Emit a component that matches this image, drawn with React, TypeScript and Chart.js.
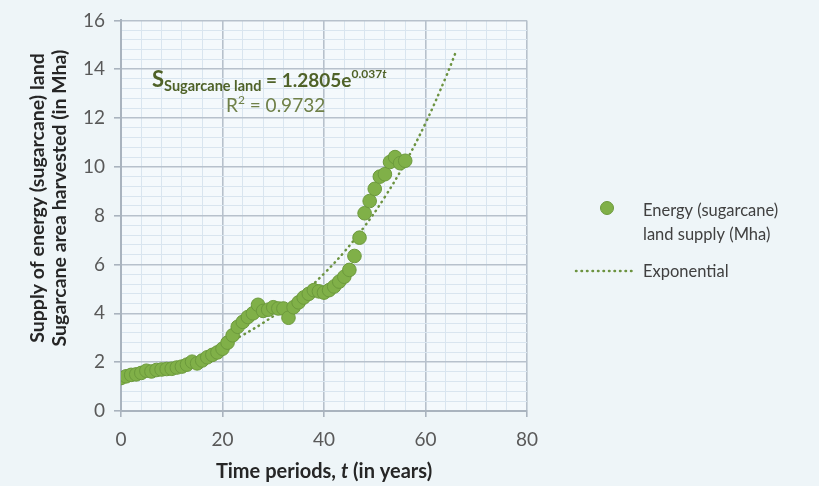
import React, { useEffect, useRef } from 'react';
import { Chart, registerables } from 'chart.js';

Chart.register(...registerables);

// ---- data ----
const years = [
  0, 1, 2, 3, 4, 5, 6, 7, 8, 9, 10, 11, 12, 13, 14, 15, 16, 17, 18, 19,
  20, 21, 22, 23, 24, 25, 26, 27, 28, 29, 30, 31, 32, 33, 34, 35, 36, 37, 38, 39,
  40, 41, 42, 43, 44, 45, 46, 47, 48, 49, 50, 51, 52, 53, 54, 55, 56,
];
const landSupply = [
  1.35, 1.42, 1.48, 1.5, 1.56, 1.65, 1.62, 1.68, 1.7, 1.72, 1.73, 1.78, 1.82, 1.9, 2.02, 1.95, 2.07, 2.2, 2.3, 2.4,
  2.55, 2.8, 3.1, 3.45, 3.65, 3.85, 4.0, 4.35, 4.1, 4.15, 4.25, 4.2, 4.2, 3.82, 4.25, 4.45, 4.65, 4.8, 4.95, 4.9,
  4.85, 4.95, 5.1, 5.3, 5.5, 5.78, 6.35, 7.1, 8.1, 8.6, 9.1, 9.6, 9.7, 10.2, 10.4, 10.15, 10.25,
];
// exponential trendline as stated on the chart: S = 1.2805 e^(0.037 t)
const trendCoefA = 1.2805;
const trendCoefB = 0.037;
const trendYears = [0, 4, 8, 12, 16, 20, 24, 28, 32, 36, 40, 44, 48, 52, 56, 60, 64, 66];
const rSquared = '0.9732';

const seriesLabel = ['Energy (sugarcane)', 'land supply (Mha)'];
const trendLabel = 'Exponential';
const yTitle = ['Supply of energy (sugarcane) land', 'Sugarcane area harvested (in Mha)'];

const FONT = 'Lato, "Open Sans", sans-serif';
const POINT_FILL = '#80b048';
const POINT_EDGE = '#6c9a3c';
const TREND_COLOR = '#6c9340';
const MAJOR_GRID = '#b7c1cc';
const MINOR_GRID = '#d9e5ef';

const isMultiple = (v: number, m: number) => Math.abs(v / m - Math.round(v / m)) < 1e-6;

const overlayPlugin = {
  id: 'overlay',
  beforeDraw(chart: any) {
    const { ctx, chartArea: a } = chart;
    ctx.save();
    ctx.fillStyle = '#eef5f8';
    ctx.fillRect(0, 0, chart.width, chart.height);
    ctx.fillStyle = '#f4f9fc';
    ctx.fillRect(a.left, a.top, a.right - a.left, a.bottom - a.top);
    ctx.restore();
  },
  afterDraw(chart: any) {
    const { ctx, chartArea: a } = chart;
    ctx.save();
    ctx.textBaseline = 'alphabetic';

    // y axis title (two lines, rotated)
    ctx.save();
    ctx.translate(38, 198);
    ctx.rotate(-Math.PI / 2);
    ctx.fillStyle = '#262626';
    ctx.font = `bold 19.5px ${FONT}`;
    ctx.textAlign = 'center';
    ctx.textBaseline = 'middle';
    ctx.fillText(yTitle[0], 0, 0);
    ctx.fillText(yTitle[1], 0, 22);
    ctx.restore();

    // x axis title with italic t
    const xParts = [
      { t: 'Time periods, ', f: `bold 20px ${FONT}` },
      { t: 't', f: `italic bold 20px ${FONT}` },
      { t: ' (in years)', f: `bold 20px ${FONT}` },
    ];
    let total = 0;
    xParts.forEach((p) => { ctx.font = p.f; total += ctx.measureText(p.t).width; });
    let x = (a.left + a.right) / 2 - total / 2;
    ctx.fillStyle = '#262626';
    xParts.forEach((p) => { ctx.font = p.f; ctx.fillText(p.t, x, 478); x += ctx.measureText(p.t).width; });

    // equation
    const eq = [
      { t: 'S', f: `bold 22px ${FONT}`, dy: 0 },
      { t: 'Sugarcane land', f: `bold 14.5px ${FONT}`, dy: 4 },
      { t: ' = 1.2805e', f: `bold 19px ${FONT}`, dy: 0 },
      { t: '0.037', f: `bold 12px ${FONT}`, dy: -9 },
      { t: 't', f: `italic bold 12px ${FONT}`, dy: -9 },
    ];
    x = 152;
    ctx.fillStyle = '#4f6228';
    eq.forEach((p) => { ctx.font = p.f; ctx.fillText(p.t, x, 87 + p.dy); x += ctx.measureText(p.t).width; });

    const r2 = [
      { t: 'R', f: `19px ${FONT}`, dy: 0 },
      { t: '2', f: `12px ${FONT}`, dy: -8 },
      { t: ' = ' + rSquared, f: `19px ${FONT}`, dy: 0 },
    ];
    x = 226;
    ctx.fillStyle = '#6f8048';
    r2.forEach((p) => { ctx.font = p.f; ctx.fillText(p.t, x, 112 + p.dy); x += ctx.measureText(p.t).width; });

    // legend
    ctx.beginPath();
    ctx.arc(607, 208, 6.5, 0, Math.PI * 2);
    ctx.fillStyle = POINT_FILL;
    ctx.fill();
    ctx.lineWidth = 1;
    ctx.strokeStyle = POINT_EDGE;
    ctx.stroke();

    ctx.beginPath();
    ctx.setLineDash([0.5, 5]);
    ctx.lineCap = 'round';
    ctx.lineWidth = 2.5;
    ctx.strokeStyle = TREND_COLOR;
    ctx.moveTo(576, 271);
    ctx.lineTo(633, 271);
    ctx.stroke();
    ctx.setLineDash([]);

    ctx.fillStyle = '#404040';
    ctx.font = `16.5px ${FONT}`;
    ctx.textAlign = 'left';
    ctx.fillText(seriesLabel[0], 643, 216);
    ctx.fillText(seriesLabel[1], 643, 240);
    ctx.fillText(trendLabel, 643, 277);
    ctx.restore();
  },
};

export default function App() {
  const ref = useRef<HTMLCanvasElement | null>(null);

  useEffect(() => {
    document.body.style.margin = '0';
    const canvas = ref.current;
    if (!canvas) return;
    const pts = years.map((t, i) => ({ x: t, y: landSupply[i] }));
    const trend = trendYears.map((t) => ({ x: t, y: trendCoefA * Math.exp(trendCoefB * t) }));

    const chart = new Chart(canvas, {
      type: 'scatter',
      data: {
        datasets: [
          {
            label: seriesLabel.join(' '),
            data: pts,
            backgroundColor: POINT_FILL,
            borderColor: POINT_EDGE,
            borderWidth: 1,
            pointRadius: 6.8,
            order: 1,
          },
          {
            type: 'line',
            label: trendLabel,
            data: trend,
            borderColor: TREND_COLOR,
            borderWidth: 2.5,
            borderDash: [0.5, 5],
            borderCapStyle: 'round',
            pointRadius: 0,
            fill: false,
            tension: 0.4,
            order: 2,
          } as any,
        ],
      },
      options: {
        responsive: false,
        animation: false,
        events: [],
        layout: { padding: { left: 0, top: 17, right: 292, bottom: 0 } },
        plugins: { legend: { display: false }, tooltip: { enabled: false } },
        scales: {
          x: {
            type: 'linear',
            min: 0,
            max: 80,
            afterFit: (s: any) => { s.height = 75; },
            ticks: {
              stepSize: 4,
              autoSkip: false,
              maxRotation: 0,
              padding: 11,
              color: '#595959',
              font: { family: FONT, size: 19 },
              callback: (v: any) => (isMultiple(Number(v), 20) ? String(v) : ''),
            },
            grid: {
              color: (c: any) => (isMultiple(c.tick.value, 20) ? MAJOR_GRID : MINOR_GRID),
              lineWidth: (c: any) => (isMultiple(c.tick.value, 20) ? 1.6 : 1),
              tickColor: (c: any) => (isMultiple(c.tick.value, 20) ? '#a9b3be' : 'rgba(0,0,0,0)'),
              tickLength: 6,
            },
            border: { color: '#a9b3be', width: 2 },
          },
          y: {
            type: 'linear',
            min: 0,
            max: 16,
            afterFit: (s: any) => { s.width = 121; },
            ticks: {
              stepSize: 0.4,
              autoSkip: false,
              padding: 9,
              color: '#595959',
              font: { family: FONT, size: 19 },
              callback: (v: any) => (isMultiple(Number(v), 2) ? String(Math.round(Number(v))) : ''),
            },
            grid: {
              color: (c: any) => (isMultiple(c.tick.value, 2) ? MAJOR_GRID : MINOR_GRID),
              lineWidth: (c: any) => (isMultiple(c.tick.value, 2) ? 1.6 : 1),
              tickColor: (c: any) => (isMultiple(c.tick.value, 2) ? '#a9b3be' : 'rgba(0,0,0,0)'),
              tickLength: 7,
            },
            border: { color: '#a9b3be', width: 2 },
          },
        },
      },
      plugins: [overlayPlugin],
    } as any);
    return () => chart.destroy();
  }, []);

  return (
    <div style={{ position: 'absolute', left: 0, top: 0, width: 819, height: 486 }}>
      <canvas ref={ref} width={819} height={486} style={{ display: 'block' }} />
    </div>
  );
}
